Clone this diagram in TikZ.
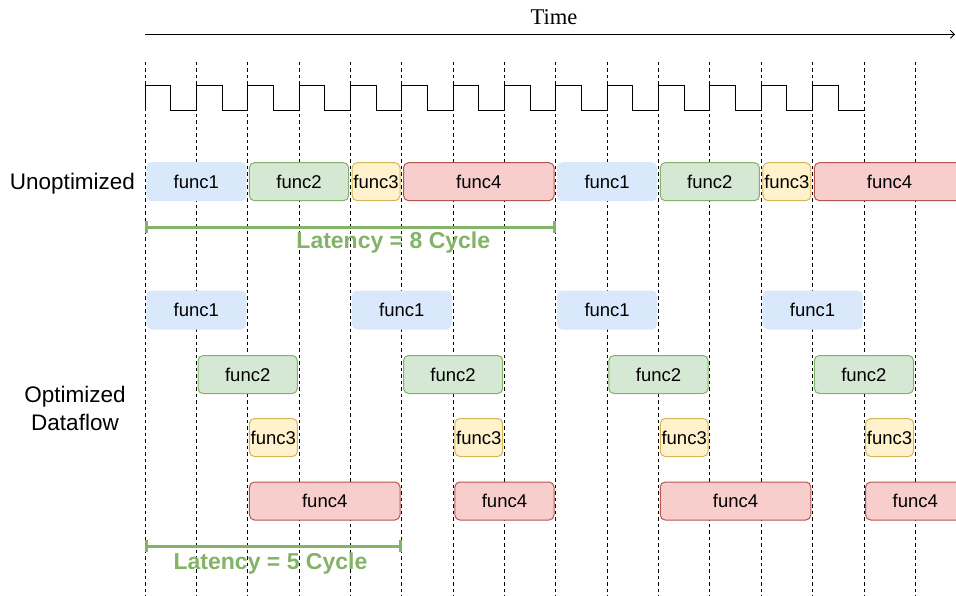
\documentclass[tikz,border=0pt]{standalone}
\usepackage{fontspec}
\setmainfont{Liberation Sans}
\newfontfamily\timefont{Liberation Serif}
\usetikzlibrary{arrows.meta}

\definecolor{blueF}{HTML}{DAE8FC}
\definecolor{greenF}{HTML}{D5E8D4}
\definecolor{greenD}{HTML}{82B366}
\definecolor{yellowF}{HTML}{FFF2CC}
\definecolor{yellowD}{HTML}{D6B656}
\definecolor{redF}{HTML}{F8CECC}
\definecolor{redD}{HTML}{B85450}

% cycle grid: first edge at x=145, one clock period = 51.35
\newcommand\cyc{51.35}
% \taskbox{name}{style}{first edge}{last edge}{y}{text}
\newcommand\taskbox[6]{%
  \pgfmathsetmacro\tbw{\cyc*(#4-#3)-3.5}%
  \pgfmathsetmacro\tbx{145+\cyc*(#3+#4)/2}%
  \node[#2, minimum width=\tbw pt] (#1) at (\tbx,#5) {#6};}

\tikzset{
  gridline/.style={black, line width=0.8pt, dash pattern=on 3.5pt off 3pt},
  clock/.style={black, line width=0.8pt, line join=miter},
  task/.style={rounded corners=5pt, minimum height=38pt, inner sep=0pt,
    line width=1pt, font=\fontsize{18.5}{18.5}\selectfont},
  fa/.style={task, fill=blueF, draw=blueF},
  fb/.style={task, fill=greenF, draw=greenD},
  fc/.style={task, fill=yellowF, draw=yellowD},
  fd/.style={task, fill=redF, draw=redD},
  sidelabel/.style={anchor=base, inner sep=0pt, font=\fontsize{22.5}{27}\selectfont},
  latline/.style={greenD, line width=3pt, {Bar[width=12pt]}-{Bar[width=12pt]}},
  latlabel/.style={anchor=base, inner sep=0pt, text=greenD,
    font=\bfseries\fontsize{23}{27}\selectfont},
}

\begin{document}
\begin{tikzpicture}[x=1pt, y=-1pt]
\useasboundingbox (0,0) rectangle (956,596);

% time axis
\coordinate (t0) at (145,34.3);
\coordinate (t1) at (955,34.3);
\draw[line width=0.9pt, -{Straight Barb[length=4pt,width=8pt]}] (t0) -- (t1);
\node[anchor=base, inner sep=0pt, font=\timefont\fontsize{22.5}{27}\selectfont] (time) at (554,25) {Time};

% clock edges
\foreach \i in {0,...,15}
  \draw[gridline] ({145+\cyc*\i},62) -- ({145+\cyc*\i},596);

% clock waveform
\draw[clock] (145,110)
  \foreach \i in {0,...,13} {
    -- ({145+\cyc*\i},85) -- ({145+\cyc*(\i+0.5)},85)
    -- ({145+\cyc*(\i+0.5)},110) -- ({145+\cyc*(\i+1)},110)
  };

% row labels
\node[sidelabel] (unopt) at (72.5,190) {Unoptimized};
\node[sidelabel] (opt1) at (75,402.7) {Optimized};
\node[sidelabel] (opt2) at (75,430) {Dataflow};

% unoptimized schedule
\taskbox{ua1}{fa}{0}{2}{181.7}{func1}
\taskbox{ub1}{fb}{2}{4}{181.7}{func2}
\taskbox{uc1}{fc}{4}{5}{181.7}{func3}
\taskbox{ud1}{fd}{5}{8}{181.7}{func4}
\taskbox{ua2}{fa}{8}{10}{181.7}{func1}
\taskbox{ub2}{fb}{10}{12}{181.7}{func2}
\taskbox{uc2}{fc}{12}{13}{181.7}{func3}
\taskbox{ud2}{fd}{13}{16}{181.7}{func4}

% dataflow schedule
\taskbox{oa1}{fa}{0}{2}{310}{func1}
\taskbox{oa2}{fa}{4}{6}{310}{func1}
\taskbox{oa3}{fa}{8}{10}{310}{func1}
\taskbox{oa4}{fa}{12}{14}{310}{func1}
\taskbox{ob1}{fb}{1}{3}{374.5}{func2}
\taskbox{ob2}{fb}{5}{7}{374.5}{func2}
\taskbox{ob3}{fb}{9}{11}{374.5}{func2}
\taskbox{ob4}{fb}{13}{15}{374.5}{func2}
\taskbox{oc1}{fc}{2}{3}{437.5}{func3}
\taskbox{oc2}{fc}{6}{7}{437.5}{func3}
\taskbox{oc3}{fc}{10}{11}{437.5}{func3}
\taskbox{oc4}{fc}{14}{15}{437.5}{func3}
\taskbox{od1}{fd}{2}{5}{501}{func4}
\taskbox{od2}{fd}{6}{8}{501}{func4}
\taskbox{od3}{fd}{10}{13}{501}{func4}
\taskbox{od4}{fd}{14}{16}{501}{func4}

% latencies
\coordinate (la0) at (145,227.3);
\coordinate (la1) at ({145+\cyc*8},227.3);
\draw[latline] (la0) -- (la1);
\node[latlabel] (lat8) at (393.3,249) {Latency = 8 Cycle};

\coordinate (lb0) at (145,546);
\coordinate (lb1) at ({145+\cyc*5},546);
\draw[latline] (lb0) -- (lb1);
\node[latlabel] (lat5) at (270.5,569.3) {Latency = 5 Cycle};
\end{tikzpicture}
\end{document}
